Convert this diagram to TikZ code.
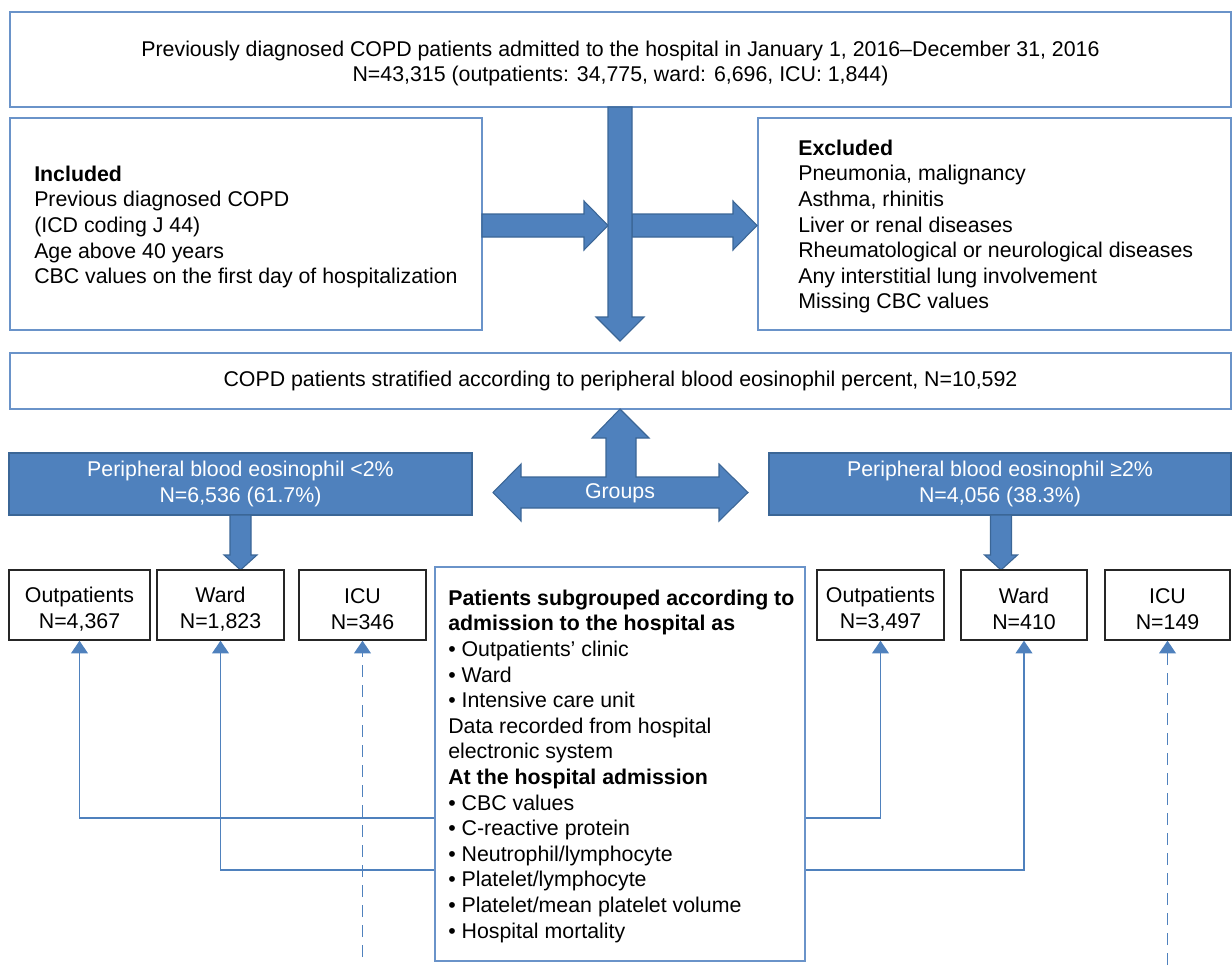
\documentclass[tikz,border=0pt]{standalone}
\usepackage{fontspec}
\setmainfont{Liberation Sans}
\usetikzlibrary{fit,arrows.meta}
\definecolor{myblue}{HTML}{4F81BD}
\definecolor{darkblue}{HTML}{3B6696}
\definecolor{lineblue}{HTML}{6A93C9}
\begin{document}
\begin{tikzpicture}[x=0.75pt,y=-0.75pt,
  every node/.style={font=\fontsize{16pt}{19.2pt}\selectfont, inner sep=0pt},
  bbox/.style={draw=lineblue, line width=1pt, align=center},
  sbox/.style={draw=black!85, line width=1pt, align=center, minimum height=52.5pt},
  gbox/.style={draw=darkblue, fill=myblue, line width=0.8pt, text=white, align=center, minimum height=46.5pt},
  barrow/.style={draw=darkblue, fill=myblue, line width=0.8pt, line join=miter},
  conn/.style={draw=myblue, line width=1.1pt, -{Triangle[width=12.5pt,length=9.5pt]}},
  dashconn/.style={conn, line width=1.3pt, dash pattern=on 9pt off 6pt},
  txt/.style={align=left, anchor=north west}]
\newcommand{\lowstrut}{\rule{0pt}{17.5pt}}
\useasboundingbox (0,0) rectangle (1232,967);

% top box
\node[bbox, minimum width=915.75pt, minimum height=71.25pt] (top) at (620.5,59.5) {\lowstrut Previously diagnosed COPD patients admitted to the hospital in January 1, 2016–December 31, 2016\\N=43,315 (outpatients: 34,775, ward: 6,696, ICU: 1,844)};

% included / excluded
\node[bbox, fit={(10,118)(482,330)}] (incl) {};
\node[txt] (inclT) at (34,165.5) {\textbf{Included}\\Previous diagnosed COPD\\(ICD coding J 44)\\Age above 40 years\\CBC values on the first day of hospitalization};
\node[bbox, fit={(758,118)(1231,330)}] (excl) {};
\node[txt] (exclT) at (798,139.5) {\textbf{Excluded}\\Pneumonia, malignancy\\Asthma, rhinitis\\Liver or renal diseases\\Rheumatological or neurological diseases\\Any interstitial lung involvement\\Missing CBC values};

% cross arrows
\draw[barrow] (482,214) -- (584,214) -- (584,201) -- (608,225.5) -- (584,250) -- (584,237) -- (482,237) -- cycle;
\draw[barrow] (632,214) -- (733,214) -- (733,201) -- (757,225.5) -- (733,250) -- (733,237) -- (632,237) -- cycle;
\draw[barrow] (608,107) -- (632,107) -- (632,317) -- (644,317) -- (620,341) -- (596,317) -- (608,317) -- cycle;

% stratified
\node[bbox, minimum width=915.75pt, minimum height=42pt] (strat) at (620.5,381) {COPD patients stratified according to peripheral blood eosinophil percent, N=10,592};

% groups arrow
\draw[barrow] (620,409) -- (649,438) -- (636,438) -- (636,477) -- (719,477) -- (719,464) -- (748,492.5) -- (719,521) -- (719,508) -- (521,508) -- (521,521) -- (493,492.5) -- (521,464) -- (521,477) -- (606,477) -- (606,438) -- (592,438) -- cycle;
\node[text=white] (grp) at (620,493) {Groups};

% group boxes
\node[gbox, minimum width=347.25pt] (g1) at (240.5,484) {Peripheral blood eosinophil <2\%\\N=6,536 (61.7\%)};
\node[gbox, minimum width=346.5pt] (g2) at (1000,484) {Peripheral blood eosinophil ≥2\%\\N=4,056 (38.3\%)};

% small down arrows
\draw[barrow] (230,515) -- (251,515) -- (251,555) -- (257,555) -- (240.5,570) -- (224,555) -- (230,555) -- cycle;
\draw[barrow] (990.5,515) -- (1011.5,515) -- (1011.5,555) -- (1017.5,555) -- (1001,570) -- (984.5,555) -- (990.5,555) -- cycle;

% small boxes
\node[sbox, minimum width=105.75pt] (o1) at (79.5,605) {\lowstrut Outpatients\\N=4,367};
\node[sbox, minimum width=95.25pt] (w1) at (220.5,605) {\lowstrut Ward\\N=1,823};
\node[sbox, minimum width=95.25pt] (i1) at (362.5,605) {\lowstrut ICU\\N=346};
\node[sbox, minimum width=95.25pt] (o2) at (880.5,605) {\lowstrut Outpatients\\N=3,497};
\node[sbox, minimum width=94.5pt] (w2) at (1024,605) {\lowstrut Ward\\N=410};
\node[sbox, minimum width=93.75pt] (i2) at (1167.5,605) {\lowstrut ICU\\N=149};

% middle box
\node[bbox, fit={(435,567)(805,961)}] (mid) {};
\node[txt] (midT) at (448,589.5) {\textbf{Patients subgrouped according to}\\\textbf{admission to the hospital as}\\• Outpatients’ clinic\\• Ward\\• Intensive care unit\\Data recorded from hospital\\electronic system\\\textbf{At the hospital admission}\\• CBC values\\• C-reactive protein\\• Neutrophil/lymphocyte\\• Platelet/lymphocyte\\• Platelet/mean platelet volume\\• Hospital mortality};

% connectors
\coordinate (yA) at (0,818);
\coordinate (yB) at (0,870);
\coordinate (dA) at (362,957);
\coordinate (dB) at (1168,965);
\draw[conn] (mid.west |- yA) -| (o1.south);
\draw[conn] (mid.west |- yB) -| (w1.south);
\draw[conn] (mid.east |- yA) -| (o2.south);
\draw[conn] (mid.east |- yB) -| (w2.south);
\draw[dashconn] (i1.south |- dA) -- (i1.south);
\draw[dashconn] (i2.south |- dB) -- (i2.south);
\end{tikzpicture}
\end{document}
